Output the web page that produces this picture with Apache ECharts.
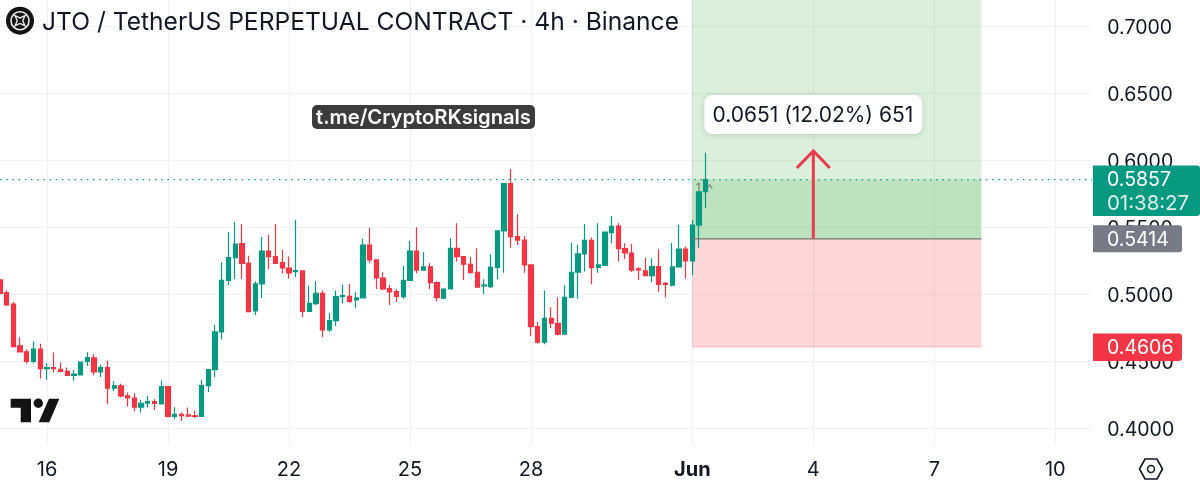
<!DOCTYPE html>
<html>
<head>
<meta charset="utf-8">
<script src="https://cdn.jsdelivr.net/npm/echarts@6/dist/echarts.min.js"></script>
<style>html,body{margin:0;padding:0;background:#fff}#c{width:1200px;height:491px}</style>
</head>
<body>
<div id="c"></div>
<script>
const titleText = 'JTO / TetherUS PERPETUAL CONTRACT · 4h · Binance';
const watermark = 't.me/CryptoRKsignals';
const infoText = '0.0651 (12.02%) 651';
const yTicks = [0.40, 0.45, 0.50, 0.55, 0.60, 0.65, 0.70];
const xTickIndex = [7, 25, 43, 61, 79, 103, 121, 139, 157];
const xTickLabels = ['16', '19', '22', '25', '28', 'Jun', '4', '7', '10'];
const barCount = 163;
const lastPrice = 0.5857, entryPrice = 0.5414, stopPrice = 0.4606, arrowTip = 0.6078;
const timer = '01:38:27';
const zoneFrom = 103, zoneTo = 146, arrowAt = 121;

const opens = [.5107,.5012,.4927,.4614,.4569,.4497,.4589,.4444,.4452,.4439,.4424,.4394,.4397,.4497,.4524,.4419,.4452,.4297,.4315,.4240,.4223,.4155,.4185,.4198,.4180,.4310,.4086,.4103,.4098,.4091,.4086,.4317,.4437,
 .4718,.5104,.5273,.5378,.5231,.4875,.5077,.5323,.5281,.5236,.5196,.5169,.5174,.4872,.4930,.5007,.4733,.4803,.4982,.4984,.4957,.4972,.5368,.5256,.5121,.5042,.5019,.4982,.5104,.5323,.5179,.5204,.5086,
 .4970,.5039,.5343,.5281,.5224,.5164,.5062,.5057,.5201,.5473,.5826,.5430,.5405,.5219,.4758,.4641,.4820,.4783,.4701,.4977,.5164,.5301,.5403,.5201,.5216,.5460,.5510,.5341,.5308,.5189,.5174,.5139,.5206,.5082,.5067,.5204,.5338,.5249,.5517,.5766];
const closes = [.5007,.4920,.4609,.4569,.4497,.4589,.4444,.4452,.4444,.4424,.4394,.4402,.4492,.4526,.4419,.4452,.4297,.4315,.4240,.4225,.4155,.4185,.4198,.4183,.4310,.4086,.4103,.4093,.4088,.4086,.4317,.4437,.4718,
 .5104,.5273,.5375,.5231,.4870,.5077,.5323,.5281,.5231,.5196,.5159,.5176,.4872,.4932,.5007,.4733,.4803,.4982,.4989,.4947,.4972,.5368,.5256,.5121,.5039,.5017,.4984,.5104,.5323,.5179,.5204,.5086,.4974,
 .5039,.5343,.5281,.5224,.5161,.5052,.5069,.5201,.5473,.5826,.5430,.5405,.5219,.4758,.4641,.4820,.4783,.4701,.4977,.5164,.5301,.5403,.5199,.5219,.5465,.5507,.5341,.5308,.5179,.5181,.5139,.5206,.5074,.5074,.5204,.5338,.5249,.5517,.5766,.5857];
const lows = [.4995,.4912,.4601,.4569,.4482,.4484,.4370,.4360,.4414,.4419,.4394,.4355,.4397,.4464,.4394,.4382,.4178,.4275,.4230,.4160,.4125,.4116,.4153,.4135,.4180,.4081,.4066,.4053,.4081,.4076,.4086,.4270,.4380,
 .4661,.5069,.5111,.5116,.4865,.4845,.4972,.5189,.5231,.5154,.5116,.5126,.4828,.4872,.4920,.4678,.4720,.4763,.4930,.4937,.4895,.4972,.5236,.5039,.5032,.4920,.4942,.4967,.5099,.5156,.5179,.5037,.4947,
 .4962,.5039,.5244,.5107,.5161,.5052,.5002,.5047,.5112,.5161,.5348,.5368,.5161,.4688,.4629,.4626,.4746,.4691,.4701,.4977,.4967,.5169,.5074,.5161,.5211,.5380,.5244,.5263,.5166,.5107,.5139,.5089,.5019,.4975,.5057,.5199,.5117,.5144,.5348,.5642];
const highs = [.5119,.5027,.4942,.4678,.4589,.4646,.4629,.4484,.4564,.4489,.4452,.4434,.4497,.4566,.4551,.4472,.4504,.4350,.4330,.4265,.4260,.4210,.4240,.4215,.4355,.4310,.4155,.4116,.4153,.4130,.4360,.4442,.4770,
 .5238,.5467,.5537,.5525,.5288,.5096,.5428,.5445,.5525,.5330,.5281,.5555,.5174,.5064,.5096,.5027,.4857,.5027,.5069,.5077,.5014,.5415,.5497,.5256,.5164,.5069,.5037,.5213,.5395,.5500,.5316,.5231,.5096,
 .5044,.5418,.5530,.5281,.5276,.5343,.5112,.5298,.5473,.5834,.5936,.5597,.5435,.5219,.4795,.5027,.4902,.4975,.5067,.5385,.5368,.5525,.5423,.5530,.5465,.5585,.5530,.5380,.5375,.5201,.5273,.5268,.5336,.5092,.5383,.5517,.5356,.5555,.5766,.6058];

const UP = '#089981', DOWN = '#f23645', GRID = '#f0f1f4';
const FONT = 'Inter, "Noto Sans", sans-serif';
const categories = Array.from({length: barCount}, (_, i) => 'bar ' + i);
const candles = opens.map((o, i) => [o, closes[i], lows[i], highs[i]]);
const yMin = 0.3873, yMax = 0.7199;

const chart = echarts.init(document.getElementById('c'), null, {renderer: 'canvas'});

function zoneRender(params, api) {
  const l = api.coord([zoneFrom, yMax])[0], r = api.coord([zoneTo, yMax])[0];
  const y = v => api.coord([zoneFrom, v])[1];
  const top = y(yMax), last = y(lastPrice), entry = y(entryPrice), stop = y(stopPrice);
  const rect = (y0, y1, fill) => ({type: 'rect', shape: {x: l, y: y0, width: r - l, height: y1 - y0}, style: {fill}});
  return {type: 'group', children: [
    rect(top, entry, 'rgba(76,175,80,0.2)'),
    rect(last, entry, 'rgba(76,175,80,0.2)'),
    rect(entry, stop, 'rgba(242,54,69,0.2)'),
    {type: 'line', shape: {x1: l, y1: stop, x2: r, y2: stop}, style: {stroke: 'rgba(242,54,69,0.25)', lineWidth: 1}},
    {type: 'line', shape: {x1: l, y1: top, x2: l, y2: stop}, style: {stroke: 'rgba(120,140,120,0.18)', lineWidth: 1}},
    {type: 'text', x: l + 6, y: last + 8, style: {text: '1', fill: '#6a6f6a', font: '11px ' + FONT, textAlign: 'center', textVerticalAlign: 'middle'}},
    {type: 'polyline', shape: {points: [[l + 15, last + 9], [l + 17.5, last + 5], [l + 20, last + 9.5]]}, style: {stroke: '#6a6f6a', lineWidth: 1, fill: 'none'}}
  ]};
}

function tag(x, yc, w, h, fill, r) {
  return {type: 'rect', shape: {x, y: yc, width: w, height: h, r}, style: {fill}};
}
function tagText(text, x, y, fill, size) {
  return {type: 'text', x, y, style: {text, fill: fill || '#fff', font: (size || 19.5) + 'px ' + FONT, textAlign: 'left', textVerticalAlign: 'middle'}};
}

function overlayRender(params, api) {
  const l = api.coord([zoneFrom, yMax])[0], r = api.coord([zoneTo, yMax])[0];
  const a = api.coord([arrowAt, entryPrice]), tip = api.coord([arrowAt, arrowTip]);
  const y = v => api.coord([zoneFrom, v])[1];
  const last = y(lastPrice), entry = y(entryPrice), stop = y(stopPrice);
  const ax = a[0];
  return {type: 'group', children: [
    {type: 'line', shape: {x1: 0, y1: last, x2: 1092, y2: last}, style: {stroke: UP, lineWidth: 1.3, lineDash: [1.5, 4.7]}},
    {type: 'line', shape: {x1: l, y1: entry, x2: r, y2: entry}, style: {stroke: '#6f7a72', lineWidth: 1.2}},
    {type: 'line', shape: {x1: ax, y1: a[1], x2: ax, y2: tip[1] + 1}, style: {stroke: '#e93b50', lineWidth: 3}},
    {type: 'polyline', shape: {points: [[ax - 16.5, tip[1] + 18], [ax, tip[1] + 1], [ax + 16.5, tip[1] + 18]]}, style: {stroke: '#e93b50', lineWidth: 3, fill: 'none'}},
    {type: 'rect', shape: {x: ax - 109, y: 95, width: 218, height: 39, r: 8}, style: {fill: '#fff', shadowBlur: 6, shadowColor: 'rgba(0,0,0,0.14)', shadowOffsetY: 1}},
    {type: 'text', x: ax - 0.5, y: 116, style: {text: infoText, fill: '#131722', font: '21px ' + FONT, textAlign: 'center', textVerticalAlign: 'middle'}},
    tag(1093, last - 14, 107, 50.5, UP, [0, 3, 3, 0]),
    tagText(lastPrice.toFixed(4), 1107, last + 1, '#fff'),
    tagText(timer, 1107, last + 24, '#d4f0e8', 20.4),
    tag(1093, entry - 13.5, 89, 27, '#787b86', [0, 3, 3, 0]),
    tagText(entryPrice.toFixed(4), 1107, entry + 1, '#fff'),
    tag(1093, stop - 13.5, 89, 27.5, '#f23645', [0, 3, 3, 0]),
    tagText(stopPrice.toFixed(4), 1107, stop + 1.5, '#fff')
  ]};
}

const isXTick = i => xTickIndex.indexOf(i) >= 0;

chart.setOption({
  animation: false,
  backgroundColor: '#fff',
  title: {text: titleText, left: 42, top: 10, padding: 0,
    textStyle: {fontFamily: FONT, fontSize: 24.6, fontWeight: 400, color: '#131722'}},
  grid: {left: -3.4, top: 0, width: barCount * 6.722, height: 445, containLabel: false, outerBoundsMode: 'none'},
  xAxis: {
    type: 'category', data: categories, boundaryGap: true,
    axisLine: {show: false},
    axisTick: {show: false, alignWithLabel: true, interval: isXTick},
    axisLabel: {interval: isXTick, margin: 15, fontFamily: FONT, fontSize: 20, color: '#131722',
      formatter: (v) => {
        const k = xTickIndex.indexOf(categories.indexOf(v));
        const t = k >= 0 ? xTickLabels[k] : '';
        return t === 'Jun' ? '{b|Jun}' : t;
      },
      rich: {b: {fontFamily: FONT, fontSize: 20, fontWeight: 700, color: '#131722'}}},
    splitLine: {show: true, interval: isXTick, alignWithLabel: true, lineStyle: {color: GRID, width: 1}}
  },
  yAxis: {
    type: 'value', position: 'right', min: yMin, max: yMax, scale: true,
    axisLine: {show: false},
    axisTick: {show: false, customValues: yTicks},
    axisLabel: {customValues: yTicks, margin: 15, align: 'left',
      formatter: v => '{p|' + v.toFixed(4) + '}',
      rich: {p: {fontFamily: FONT, fontSize: 19.5, color: '#131722', padding: [4, 0, 0, 0]}}},
    splitLine: {show: true, lineStyle: {color: GRID, width: 1}}
  },
  series: [
    {type: 'custom', z: 1, silent: true, renderItem: zoneRender, data: [[0, lastPrice]], clip: false},
    {type: 'candlestick', z: 2, data: candles, barWidth: 4.8,
      itemStyle: {color: UP, color0: DOWN, borderColor: UP, borderColor0: DOWN, borderColorDoji: UP, borderWidth: 1.2}},
    {type: 'custom', z: 3, silent: true, renderItem: overlayRender, data: [[0, lastPrice]], clip: false}
  ],
  graphic: [
    {type: 'circle', shape: {cx: 20, cy: 20.7, r: 14}, style: {fill: '#131313'}, z: 10},
    {type: 'circle', shape: {cx: 20, cy: 20.7, r: 9}, style: {fill: 'none', stroke: '#e8e8e8', lineWidth: 1.6}, z: 11},
    {type: 'polygon', shape: {points: [[15, 15.7], [20, 18], [25, 15.7], [22.7, 20.7], [25, 25.7], [20, 23.4], [15, 25.7], [17.3, 20.7]]},
      style: {fill: 'none', stroke: '#e8e8e8', lineWidth: 1.4}, z: 11},
    {type: 'polygon', shape: {points: [[10.7, 398.7], [31, 398.7], [31, 422.3], [20.7, 422.3], [20.7, 407.7], [10.7, 407.7]]}, style: {fill: '#131313'}, z: 10},
    {type: 'circle', shape: {cx: 38.3, cy: 403.3, r: 4.7}, style: {fill: '#131313'}, z: 10},
    {type: 'polygon', shape: {points: [[49, 398.7], [59.3, 398.7], [49.3, 422.3], [38.7, 422.3]]}, style: {fill: '#131313'}, z: 10},
    {type: 'rect', shape: {x: 312, y: 105, width: 223, height: 24, r: 5}, style: {fill: '#3c3c3c'}, z: 10},
    {type: 'text', x: 423.5, y: 117.5, style: {text: watermark, fill: '#fff', font: '600 20.2px ' + FONT, textAlign: 'center', textVerticalAlign: 'middle'}, z: 11},
    {type: 'polygon', shape: {points: [[1139.5, 469], [1145, 459], [1157, 459], [1162.5, 469], [1157, 479], [1145, 479]]}, style: {fill: 'none', stroke: '#131722', lineWidth: 1.6}, z: 10},
    {type: 'circle', shape: {cx: 1151, cy: 469, r: 3.5}, style: {fill: 'none', stroke: '#131722', lineWidth: 1.5}, z: 10}
  ]
});
</script>
</body>
</html>
